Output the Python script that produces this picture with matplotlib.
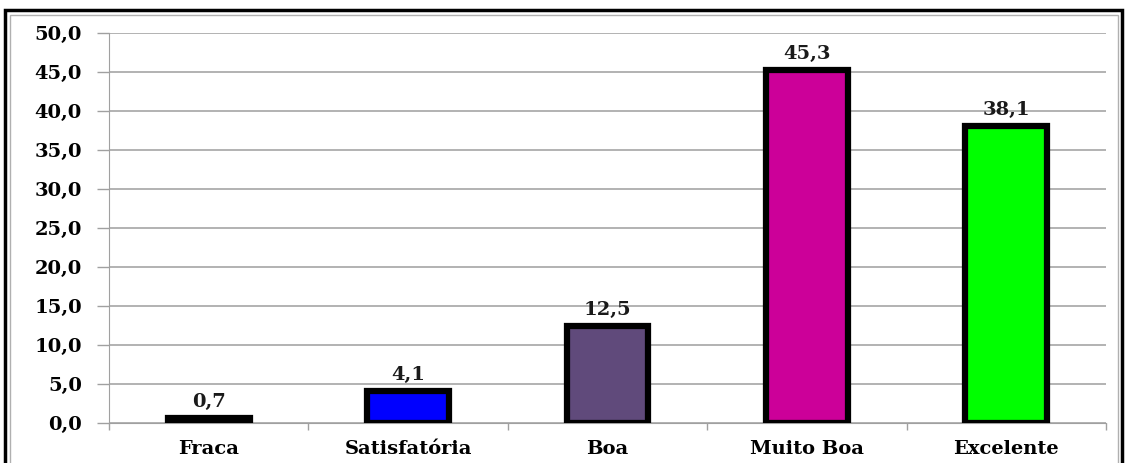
import numpy as np
import matplotlib.pyplot as plt
from matplotlib.patches import Rectangle

categorias = ['Fraca', 'Satisfatória', 'Boa', 'Muito Boa', 'Excelente']
valores = [0.7, 4.1, 12.5, 45.3, 38.1]
cores = ['#000000', '#0000FF', '#604A7B', '#CC0099', '#00FF00']
y_ticks = [0, 5, 10, 15, 20, 25, 30, 35, 40, 45, 50]


def virgula(v, casas=1):
    return f'{v:.{casas}f}'.replace('.', ',')


plt.rcParams['font.family'] = ['DejaVu Serif']
plt.rcParams['font.weight'] = 'bold'

fig = plt.figure(figsize=(11.25, 4.63), dpi=100)
ax = fig.add_axes([109 / 1125, 1 - 423 / 463, (1106 - 109) / 1125, (423 - 33) / 463])

x = np.arange(len(categorias))
bars = ax.bar(x, valores, width=0.41, color=cores, edgecolor='black', linewidth=4.5, zorder=3)

# rótulos de valor acima das barras
for xi, v in zip(x, valores):
    ax.annotate(virgula(v), (xi, v), xytext=(0, 5), textcoords='offset points',
                ha='center', va='bottom', fontsize=14, fontweight='bold', color='#1a1a1a')

ax.set_xlim(-0.5, len(categorias) - 0.5)
ax.set_ylim(0, 50)
ax.set_yticks(y_ticks)
ax.set_yticklabels([virgula(t) for t in y_ticks], fontsize=14, fontweight='bold')
ax.set_xticks(x)
ax.set_xticklabels(categorias, fontsize=14, fontweight='bold')
ax.tick_params(axis='x', length=0, pad=12)
ax.set_xticks(np.arange(-0.5, len(categorias)), minor=True)
ax.tick_params(axis='x', which='minor', length=5, color='#a0a0a0', width=1)
ax.tick_params(axis='y', length=8.6, color='#a0a0a0', width=1, pad=11)

ax.grid(axis='y', color='#a6a6a6', linewidth=1.2, zorder=0)
for s in ['top', 'right']:
    ax.spines[s].set_visible(False)
ax.spines['left'].set_color('#a0a0a0')
ax.spines['bottom'].set_color('#a0a0a0')

# moldura externa
fig.patches.append(Rectangle((5 / 1125, -0.02), 1117 / 1125, 1 - 10 / 463 + 0.02,
                             transform=fig.transFigure, fill=False,
                             edgecolor='black', linewidth=2.5))
fig.patches.append(Rectangle((10 / 1125, -0.02), 1108 / 1125, 1 - 15 / 463 + 0.02,
                             transform=fig.transFigure, fill=False,
                             edgecolor='#b0b0b0', linewidth=1))

fig.savefig('out.png', dpi=100)
